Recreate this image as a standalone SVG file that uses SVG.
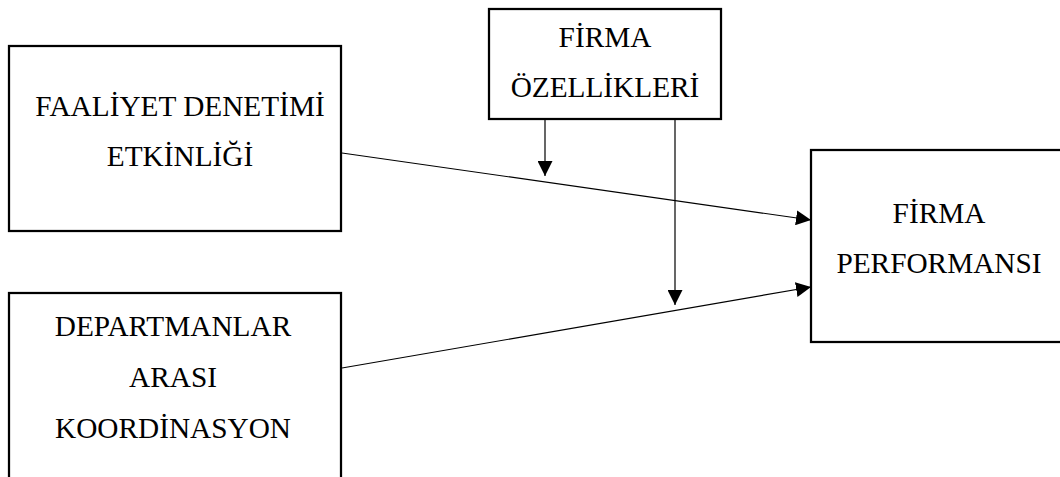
<svg xmlns="http://www.w3.org/2000/svg" width="1060" height="477" viewBox="0 0 1060 477">
<style>
.box{fill:#fff;stroke:#000;stroke-width:2.25}
.lbl{font-family:"Liberation Serif","Times New Roman",serif;font-size:29.3px;fill:#000;text-anchor:middle}
.con{stroke:#000;stroke-width:1.2;fill:none;marker-end:url(#ah)}
</style>
<defs>
<marker id="ah" markerUnits="userSpaceOnUse" markerWidth="15" markerHeight="15" refX="15" refY="7.5" orient="auto">
<path d="M0,0 L15,7.5 L0,15 z" fill="#000"/>
</marker>
</defs>
<rect width="1060" height="477" fill="#fff"/>
<g id="node-faaliyet">
<rect class="box" x="9" y="46" width="332" height="185"/>
<text class="lbl" x="180" y="116">FAALİYET DENETİMİ</text>
<text class="lbl" x="180" y="166">ETKİNLİĞİ</text>
</g>
<g id="node-firma-ozellikleri">
<rect class="box" x="489" y="9" width="232" height="110"/>
<text class="lbl" x="605" y="47">FİRMA</text>
<text class="lbl" x="605" y="97">ÖZELLİKLERİ</text>
</g>
<g id="node-firma-performansi">
<rect class="box" x="811" y="150" width="260" height="192"/>
<text class="lbl" x="939" y="223">FİRMA</text>
<text class="lbl" x="939" y="273">PERFORMANSI</text>
</g>
<g id="node-departmanlar">
<rect class="box" x="9" y="293" width="332" height="200"/>
<text class="lbl" x="173" y="336">DEPARTMANLAR</text>
<text class="lbl" x="173" y="387">ARASI</text>
<text class="lbl" x="173" y="438">KOORDİNASYON</text>
</g>
<g id="connectors">
<line class="con" x1="342" y1="153" x2="811" y2="220"/>
<line class="con" x1="342" y1="368" x2="811" y2="287"/>
<line class="con" x1="545" y1="120" x2="545" y2="176"/>
<line class="con" x1="675" y1="120" x2="675" y2="305"/>
</g>
</svg>
